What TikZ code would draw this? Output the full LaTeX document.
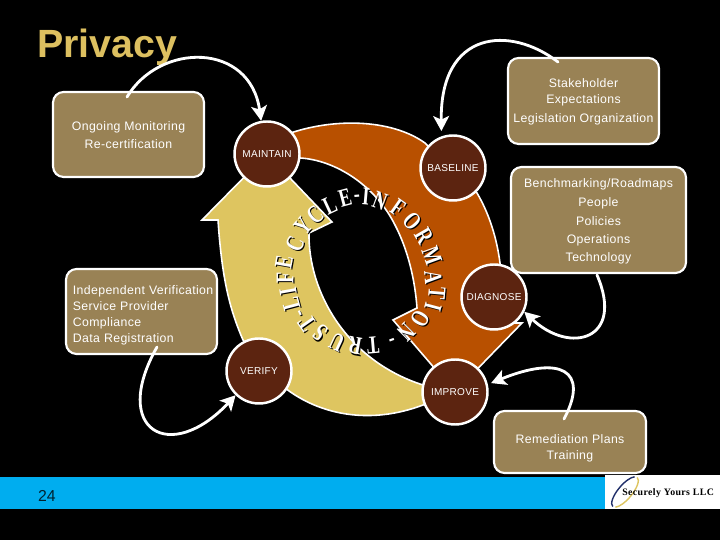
\documentclass[tikz,border=0pt]{standalone}
\usepackage{fontspec}
\usetikzlibrary{arrows.meta}
\setmainfont{Liberation Sans}
\newfontfamily\boxfont[LetterSpace=3]{Liberation Sans}
\newfontfamily\ringfont[Scale=1]{Liberation Serif}
\newfontfamily\logofont[LetterSpace=4]{Liberation Serif}
\definecolor{orangearc}{HTML}{B85000}
\definecolor{yellowarc}{HTML}{DEC560}
\definecolor{brownnode}{HTML}{5C2410}
\definecolor{boxfill}{HTML}{998255}
\definecolor{titlecol}{HTML}{DDC060}
\definecolor{barcyan}{HTML}{00ADEF}
\definecolor{logonavy}{HTML}{22306A}
\tikzset{
  x=0.02cm,y=-0.02cm,
  stage/.style={circle,draw=white,line width=1.4pt,fill=brownnode,text=white,minimum size=1.3cm,inner sep=0pt,
    font=\boxfont\fontsize{5.7}{7}\selectfont},
  infobox/.style={draw=white,line width=1.2pt,fill=boxfill,rounded corners=6pt,text=white,inner sep=0pt,anchor=center,
    font=\boxfont\fontsize{7}{9}\selectfont},
  flow/.style={draw=white,line width=1.6pt,line cap=round,-{Stealth[length=8.5pt,width=9pt,inset=2pt]}},
  arcband/.style={draw=white,line width=0.9pt,line join=miter},
  ringshadow/.style={text=black,font=\ringfont\bfseries\fontsize{14.5}{14.5}\selectfont,inner sep=0pt,transform shape},
  ringletter/.style={text=white,font=\ringfont\bfseries\fontsize{14.5}{14.5}\selectfont,inner sep=0pt,transform shape},
}
\begin{document}
\begin{tikzpicture}
\useasboundingbox (0,0) rectangle (720,540);
\fill[black] (0,0) rectangle (720,540);
% bottom bar and logo
\fill[barcyan] (0,477) rectangle (605,509);
\fill[white] (605,475) rectangle (720,509);
\node[text=black!80!barcyan,font=\fontsize{9}{10}\selectfont,inner sep=0pt] (pagenum) at (47,496) {24};
\begin{scope}[shift={(625,492)},rotate=50]
  \draw[logonavy,line width=.8pt] (-19,0) arc[start angle=180,end angle=20,x radius=19,y radius=-7];
  \draw[yellowarc,line width=.8pt] (19,0) arc[start angle=0,end angle=-160,x radius=19,y radius=-7];
\end{scope}
\node[text=black,font=\logofont\bfseries\fontsize{5.6}{7}\selectfont,anchor=west,inner sep=0pt] (logotext) at (622,493) {Securely Yours LLC};
% title
\node[text=titlecol,font=\bfseries\fontsize{22.4}{24}\selectfont,anchor=west,inner sep=0pt] (title) at (37,47) {Privacy};
% orange arrow
\path[fill=orangearc,arcband]
  (285,135) .. controls (330,118) and (390,118) .. (425,143)
  -- (477,193) .. controls (490,215) and (497,240) .. (500,263)
  -- (505,323) -- (522,323) -- (455,392) -- (393,320) -- (417,308)
  .. controls (415,280) and (408,250) .. (395,225)
  .. controls (375,185) and (335,160) .. (300,158) -- cycle;
% yellow arrow
\path[fill=yellowarc,arcband]
  (267,154) -- (332,222) -- (309,233)
  .. controls (308,290) and (345,360) .. (423,385)
  -- (455,395) -- (423,405)
  .. controls (370,425) and (320,415) .. (285,388)
  -- (243,340) .. controls (230,310) and (222,280) .. (218,220)
  -- (202,220) -- cycle;
% ring text
\foreach \lx/\ly/\la/\lc [count=\n] in {
 366/197/-5/I,380/201/-20/N,398/208/-35/F,412/221/-48/O,424/236/-60/R,432/256/-70/M,
 433/277/-85/A,437/293/-95/T,433/307/-105/I,420/319/-120/O,406/332/-135/N,391/338/-160/-,
 373/345/-175/T,355/346/170/R,337/342/155/U,320/333/140/S,307/323/125/T,302/312/115/-,
 291/304/105/L,288/291/100/I,285/278/90/F,284/262/80/E,295/244/65/C,303/226/50/Y,
 315/215/40/C,330/205/25/L,345/198/15/E,357/199/5/-}{
  \node[ringshadow,rotate=\la,xscale=.72] (rs\n) at (\lx+1.2,\ly+1.2) {\lc};
  \node[ringletter,rotate=\la,xscale=.72] (rl\n) at (\lx,\ly) {\lc};
}
% stages
\node[stage] (maintain) at (267,154) {MAINTAIN};
\node[stage] (baseline) at (453,168) {BASELINE};
\node[stage] (diagnose) at (494,297) {DIAGNOSE};
\node[stage] (improve) at (455,392) {IMPROVE};
\node[stage] (verify) at (259,371) {VERIFY};
% boxes
\node[infobox,minimum width=3.02cm,minimum height=1.7cm,align=center] (ongoing) at (128.5,134.5)
  {\mbox{}\\[-2.8pt]Ongoing Monitoring\\[1.2pt]Re-certification};
\node[infobox,minimum width=3.02cm,minimum height=1.7cm,align=left,text width=2.92cm] (independent) at (141.5,311.5)
  {\mbox{}\\[0.4pt]\hspace*{2.5pt}Independent Verification\\\hspace*{2.5pt}Service Provider\\\hspace*{2.5pt}Compliance\\\hspace*{2.5pt}Data Registration};
\node[infobox,minimum width=3.02cm,minimum height=1.72cm,align=center] (stakeholder) at (583.5,101)
  {\mbox{}\\[-2.8pt]Stakeholder\\Expectations\\[2pt]Legislation Organization};
\node[infobox,minimum width=3.5cm,minimum height=2.12cm,align=center] (bench) at (598.5,220)
  {\mbox{}\\[-2.2pt]Benchmarking/Roadmaps\\[1.6pt]People\\[1.6pt]Policies\\[1.6pt]Operations\\[1.2pt]Technology};
\node[infobox,minimum width=3.04cm,minimum height=1.24cm,align=center] (remediation) at (570,442)
  {\mbox{}\\[3.3pt]Remediation Plans\\Training};
% connectors
\coordinate (fromOngoing) at (127,97);
\coordinate (fromStake) at (558,62);
\coordinate (fromBench) at (597,275);
\coordinate (fromRemed) at (564,419);
\coordinate (fromIndep) at (157,347);
\draw[flow] (fromOngoing) .. controls (160,42) and (250,42) .. (maintain.100);
\draw[flow,shorten >=3pt] (fromStake) .. controls (510,25) and (440,30) .. (baseline.110);
\draw[flow] (fromBench) .. controls (625,340) and (570,355) .. (diagnose.-26);
\draw[flow,shorten >=2pt] (fromRemed) .. controls (590,370) and (560,355) .. (improve.13);
\draw[flow] (fromIndep) .. controls (110,430) and (170,465) .. (verify.226);
\end{tikzpicture}
\end{document}
